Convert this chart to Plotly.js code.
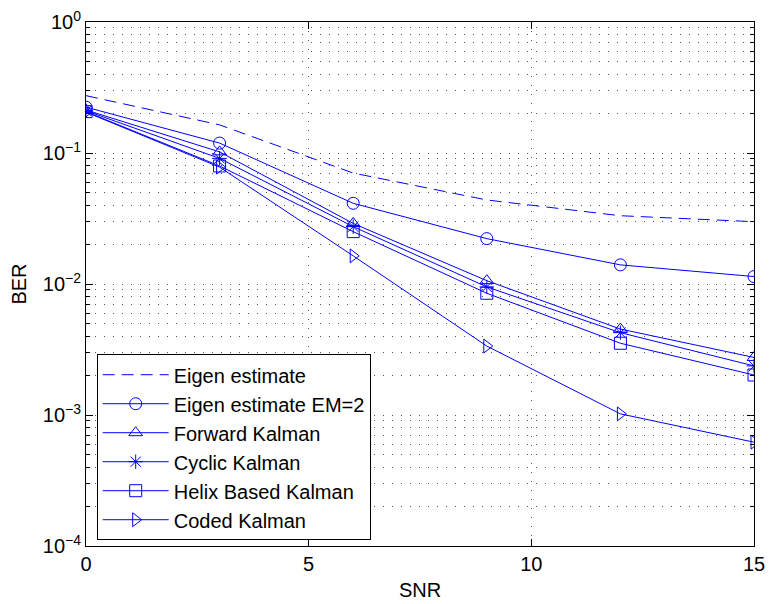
<!DOCTYPE html>
<html>
<head>
<meta charset="utf-8">
<script src="https://cdn.plot.ly/plotly-3.0.1.min.js"></script>
<style>html,body{margin:0;padding:0;background:#fff;}#chart{width:770px;height:604px;}</style>
</head>
<body>
<div id="chart"></div>
<script>
var snr = [0, 3, 6, 9, 12, 15];
var eigenEstimate = [0.274, 0.164, 0.0703, 0.0438, 0.0332, 0.0299];
var eigenEM2 = [0.224, 0.119, 0.0413, 0.0222, 0.0140, 0.0114];
var forwardKalman = [0.213, 0.102, 0.0290, 0.0106, 0.00453, 0.00275];
var cyclicKalman = [0.210, 0.091, 0.0274, 0.0095, 0.00425, 0.00237];
var helixKalman = [0.207, 0.0796, 0.0251, 0.0085, 0.00353, 0.00202];
var codedKalman = [0.205, 0.078, 0.0164, 0.00336, 0.00102, 0.00062];
var seriesNames = ["Eigen estimate", "Eigen estimate EM=2", "Forward Kalman", "Cyclic Kalman", "Helix Based Kalman", "Coded Kalman"];
var yTickVals = [1e-4, 1e-3, 1e-2, 1e-1, 1];
var yTickText = ["10<sup>\u22124</sup>", "10<sup>\u22123</sup>", "10<sup>\u22122</sup>", "10<sup>\u22121</sup>", "10<sup>0</sup>"];
var xTickVals = [0, 5, 10, 15];

var blue = '#0000ff';
function tr(name, y, sym, dash) {
  var t = {x: snr, y: y, name: name, type: 'scatter',
    mode: sym ? 'lines+markers' : 'lines',
    line: {color: blue, width: 1, dash: dash || 'solid'}};
  if (sym) t.marker = {symbol: sym, size: 12, color: blue, line: {color: blue, width: 1}};
  return t;
}
var data = [
  tr(seriesNames[0], eigenEstimate, null, '12px,7px'),
  tr(seriesNames[1], eigenEM2, 'circle-open'),
  tr(seriesNames[2], forwardKalman, 'triangle-up-open'),
  tr(seriesNames[3], cyclicKalman, 'asterisk-open'),
  tr(seriesNames[4], helixKalman, 'square-open'),
  tr(seriesNames[5], codedKalman, 'triangle-right-open')
];
var font = {family: 'Liberation Sans, Arial, sans-serif', size: 20, color: '#000'};
var gridDot = '1px,8px';
var gridCol = '#555';
var layout = {
  width: 770, height: 604,
  margin: {l: 86, r: 16, t: 22, b: 58},
  paper_bgcolor: '#fff', plot_bgcolor: '#fff',
  font: font,
  showlegend: true,
  legend: {x: 0.016, y: 0.366, xanchor: 'left', yanchor: 'top', bgcolor: '#fff',
    bordercolor: '#000', borderwidth: 1, font: {family: font.family, size: 20, color: '#000'},
    tracegroupgap: 0, itemwidth: 66},
  xaxis: {range: [0, 15], tickvals: xTickVals, ticks: 'inside', ticklen: 7, tickcolor: '#000',
    showline: true, linecolor: '#000', linewidth: 1, mirror: 'ticks',
    showgrid: true, gridcolor: gridCol, griddash: gridDot, gridwidth: 1, zeroline: false,
    title: {text: 'SNR', font: font, standoff: 8}, tickfont: font},
  yaxis: {type: 'log', range: [-4, 0], tickvals: yTickVals, ticktext: yTickText,
    ticks: 'inside', ticklen: 7, tickcolor: '#000',
    showline: true, linecolor: '#000', linewidth: 1, mirror: 'ticks',
    showgrid: true, gridcolor: gridCol, griddash: gridDot, gridwidth: 1, zeroline: false,
    minor: {dtick: 'D1', showgrid: true, gridcolor: gridCol, griddash: gridDot, gridwidth: 1,
      ticks: 'inside', ticklen: 4, tickcolor: '#000'},
    title: {text: 'BER', font: font, standoff: 10}, tickfont: font}
};
Plotly.newPlot('chart', data, layout, {displayModeBar: false, staticPlot: true});
</script>
</body>
</html>
